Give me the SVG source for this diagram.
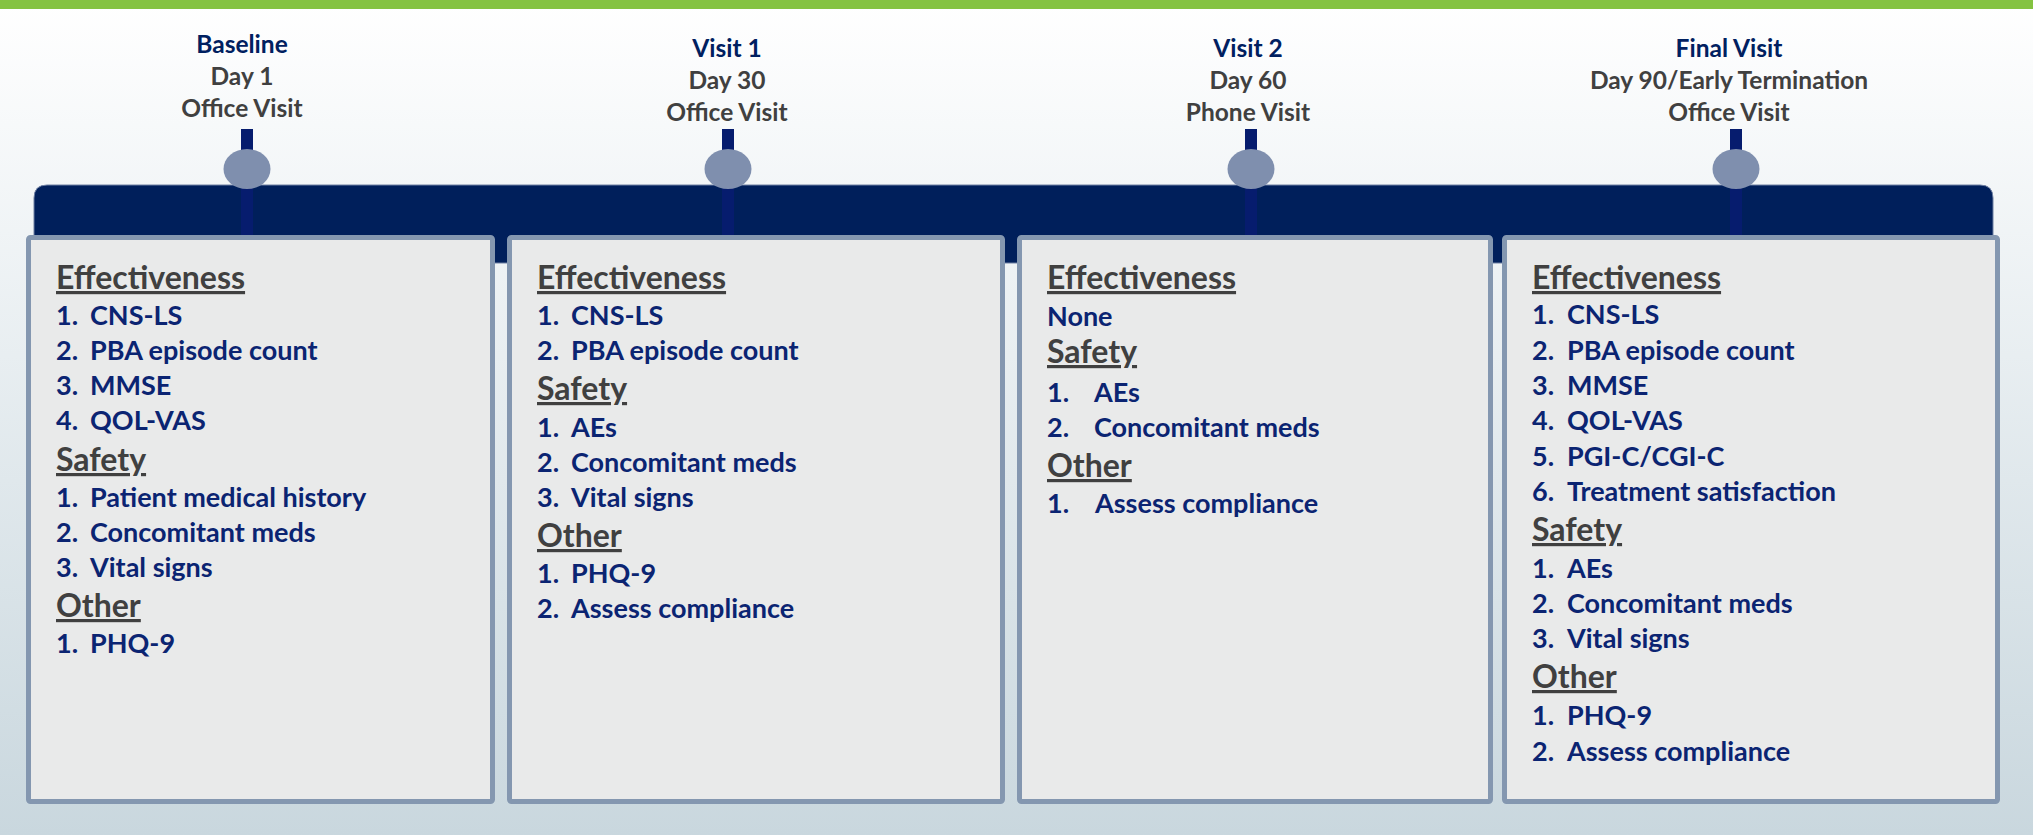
<svg xmlns="http://www.w3.org/2000/svg" width="2033" height="835" viewBox="0 0 2033 835">
  <defs>
    <linearGradient id="bg" x1="0" y1="0" x2="0" y2="1">
      <stop offset="0" stop-color="#FFFFFF"/>
      <stop offset="1" stop-color="#C9D7DE"/>
    </linearGradient>
    <style>
      text { font-family: Lato, "Open Sans", "Liberation Sans", sans-serif; font-weight: bold; }
      .title { font-size: 24.5px; fill: #002060; text-anchor: middle; }
      .sub { font-size: 24.5px; fill: #404040; text-anchor: middle; }
      .head { font-size: 32px; fill: #404040; text-decoration: underline; }
      .item { font-size: 27px; fill: #0B2472; }
      .box { fill: #E9EAEA; stroke: #8497B0; stroke-width: 5; }
      .stem { fill: #061C6E; }
      .dot { fill: #7F8FAE; }
    </style>
  </defs>

  <!-- backdrop and top accent strip -->
  <rect x="0" y="0" width="2033" height="835" fill="url(#bg)"/>
  <rect x="0" y="0" width="2033" height="9" fill="#84C341"/>

  <!-- timeline bar, stems and markers -->
  <g id="connectors">
    <path d="M34 263 V198 Q34 185 47 185 H1980 Q1993 185 1993 198 V263 Z" fill="#001F5B" stroke="#6F80A3" stroke-width="1"/>
    <rect class="stem" x="241" y="129" width="12" height="106"/>
    <rect class="stem" x="722" y="129" width="12" height="106"/>
    <rect class="stem" x="1245" y="129" width="12" height="106"/>
    <rect class="stem" x="1730" y="129" width="12" height="106"/>
    <ellipse class="dot" cx="247" cy="169" rx="23.5" ry="20"/>
    <ellipse class="dot" cx="728" cy="169" rx="23.5" ry="20"/>
    <ellipse class="dot" cx="1251" cy="169" rx="23.5" ry="20"/>
    <ellipse class="dot" cx="1736" cy="169" rx="23.5" ry="20"/>
  </g>

  <!-- visit labels -->
  <g id="label-baseline">
    <text class="title" x="242" y="53">Baseline</text>
    <text class="sub" x="242" y="85">Day 1</text>
    <text class="sub" x="242" y="117">Office Visit</text>
  </g>
  <g id="label-visit1">
    <text class="title" x="727" y="57">Visit 1</text>
    <text class="sub" x="727" y="89">Day 30</text>
    <text class="sub" x="727" y="121">Office Visit</text>
  </g>
  <g id="label-visit2">
    <text class="title" x="1248" y="57">Visit 2</text>
    <text class="sub" x="1248" y="89">Day 60</text>
    <text class="sub" x="1248" y="121">Phone Visit</text>
  </g>
  <g id="label-final">
    <text class="title" x="1729" y="57">Final Visit</text>
    <text class="sub" x="1729" y="89">Day 90/Early Termination</text>
    <text class="sub" x="1729" y="121">Office Visit</text>
  </g>

  <!-- Baseline assessments -->
  <g id="box-baseline">
    <rect class="box" x="28.5" y="237.5" width="464" height="564" rx="2"/>
    <text class="head" x="56" y="289">Effectiveness</text>
    <text class="item" x="56" y="325">1.</text><text class="item" x="90" y="325">CNS-LS</text>
    <text class="item" x="56" y="360">2.</text><text class="item" x="90" y="360">PBA episode count</text>
    <text class="item" x="56" y="395">3.</text><text class="item" x="90" y="395">MMSE</text>
    <text class="item" x="56" y="430">4.</text><text class="item" x="90" y="430">QOL-VAS</text>
    <text class="head" x="56" y="471">Safety</text>
    <text class="item" x="56" y="507">1.</text><text class="item" x="90" y="507">Patient medical history</text>
    <text class="item" x="56" y="542">2.</text><text class="item" x="90" y="542">Concomitant meds</text>
    <text class="item" x="56" y="577">3.</text><text class="item" x="90" y="577">Vital signs</text>
    <text class="head" x="56" y="617">Other</text>
    <text class="item" x="56" y="653">1.</text><text class="item" x="90" y="653">PHQ-9</text>
  </g>

  <!-- Visit 1 assessments -->
  <g id="box-visit1">
    <rect class="box" x="509.5" y="237.5" width="493" height="564" rx="2"/>
    <text class="head" x="537" y="289">Effectiveness</text>
    <text class="item" x="537" y="325">1.</text><text class="item" x="571" y="325">CNS-LS</text>
    <text class="item" x="537" y="360">2.</text><text class="item" x="571" y="360">PBA episode count</text>
    <text class="head" x="537" y="400">Safety</text>
    <text class="item" x="537" y="437">1.</text><text class="item" x="571" y="437">AEs</text>
    <text class="item" x="537" y="472">2.</text><text class="item" x="571" y="472">Concomitant meds</text>
    <text class="item" x="537" y="507">3.</text><text class="item" x="571" y="507">Vital signs</text>
    <text class="head" x="537" y="547">Other</text>
    <text class="item" x="537" y="583">1.</text><text class="item" x="571" y="583">PHQ-9</text>
    <text class="item" x="537" y="618">2.</text><text class="item" x="571" y="618">Assess compliance</text>
  </g>

  <!-- Visit 2 assessments -->
  <g id="box-visit2">
    <rect class="box" x="1019.5" y="237.5" width="471" height="564" rx="2"/>
    <text class="head" x="1047" y="289">Effectiveness</text>
    <text class="item" x="1047" y="326">None</text>
    <text class="head" x="1047" y="363">Safety</text>
    <text class="item" x="1047" y="402">1.</text><text class="item" x="1094" y="402">AEs</text>
    <text class="item" x="1047" y="437">2.</text><text class="item" x="1094" y="437">Concomitant meds</text>
    <text class="head" x="1047" y="477">Other</text>
    <text class="item" x="1047" y="513">1.</text><text class="item" x="1095" y="513">Assess compliance</text>
  </g>

  <!-- Final visit assessments -->
  <g id="box-final">
    <rect class="box" x="1504.5" y="237.5" width="493" height="564" rx="2"/>
    <text class="head" x="1532" y="289">Effectiveness</text>
    <text class="item" x="1532" y="324">1.</text><text class="item" x="1567" y="324">CNS-LS</text>
    <text class="item" x="1532" y="360">2.</text><text class="item" x="1567" y="360">PBA episode count</text>
    <text class="item" x="1532" y="395">3.</text><text class="item" x="1567" y="395">MMSE</text>
    <text class="item" x="1532" y="430">4.</text><text class="item" x="1567" y="430">QOL-VAS</text>
    <text class="item" x="1532" y="466">5.</text><text class="item" x="1567" y="466">PGI-C/CGI-C</text>
    <text class="item" x="1532" y="501">6.</text><text class="item" x="1567" y="501">Treatment satisfaction</text>
    <text class="head" x="1532" y="541">Safety</text>
    <text class="item" x="1532" y="578">1.</text><text class="item" x="1567" y="578">AEs</text>
    <text class="item" x="1532" y="613">2.</text><text class="item" x="1567" y="613">Concomitant meds</text>
    <text class="item" x="1532" y="648">3.</text><text class="item" x="1567" y="648">Vital signs</text>
    <text class="head" x="1532" y="688">Other</text>
    <text class="item" x="1532" y="725">1.</text><text class="item" x="1567" y="725">PHQ-9</text>
    <text class="item" x="1532" y="761">2.</text><text class="item" x="1567" y="761">Assess compliance</text>
  </g>
</svg>
